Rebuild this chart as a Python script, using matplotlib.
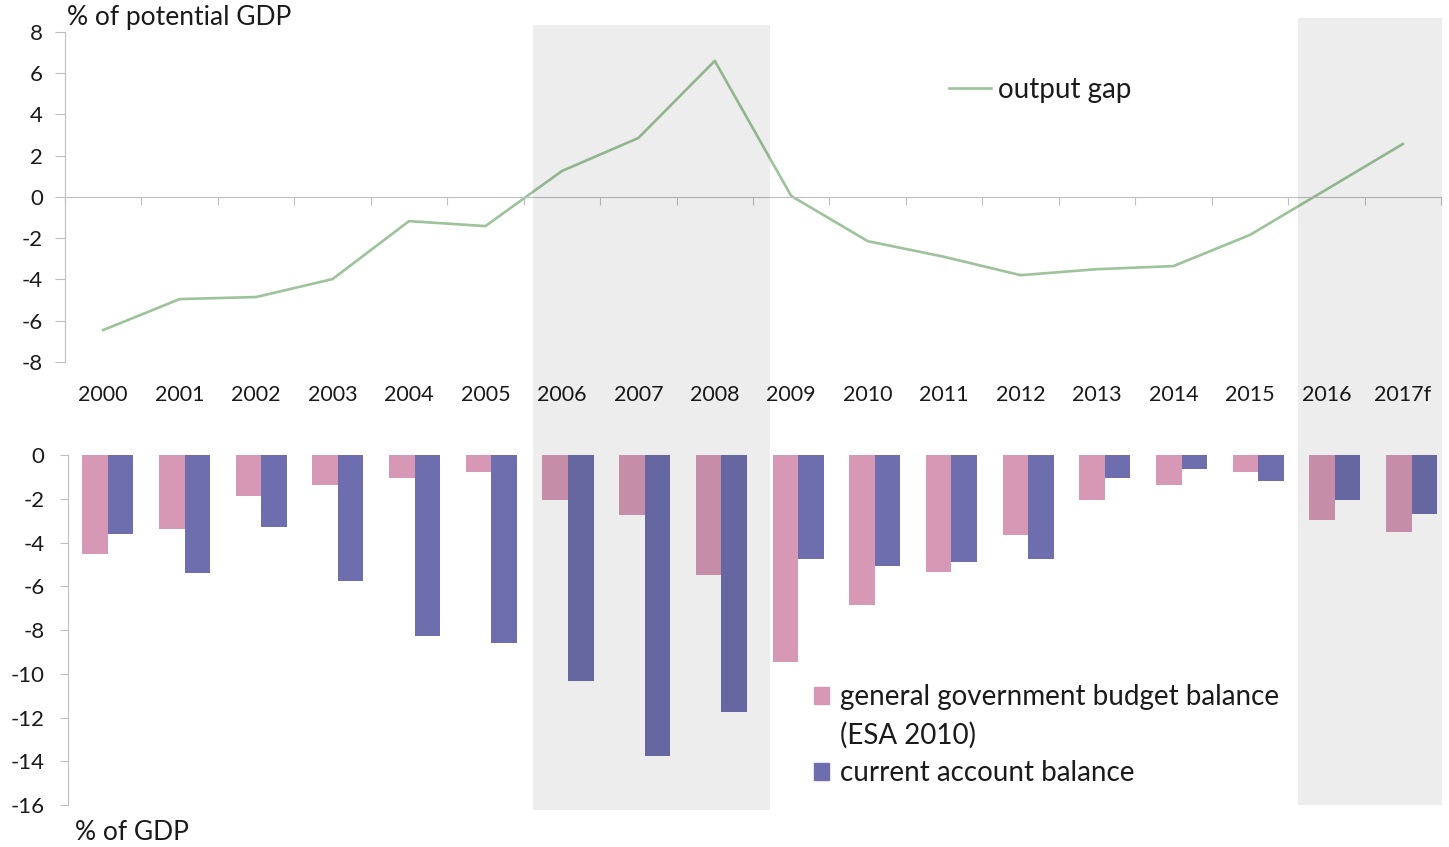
import numpy as np
import matplotlib.pyplot as plt
from matplotlib.patches import Rectangle
from matplotlib.lines import Line2D

plt.rcParams['font.family'] = ['Lato', 'DejaVu Sans']
plt.rcParams['axes.unicode_minus'] = False

years = ['2000', '2001', '2002', '2003', '2004', '2005', '2006', '2007', '2008',
         '2009', '2010', '2011', '2012', '2013', '2014', '2015', '2016', '2017f']
output_gap = [-6.45, -4.95, -4.85, -3.98, -1.17, -1.41, 1.26, 2.86, 6.6,
              0.05, -2.14, -2.9, -3.79, -3.5, -3.35, -1.84, 0.36, 2.57]
budget_balance = [-4.52, -3.38, -1.87, -1.37, -1.05, -0.78, -2.05, -2.74, -5.48,
                  -9.45, -6.85, -5.34, -3.65, -2.05, -1.37, -0.78, -2.97, -3.52]
current_account = [-3.6, -5.39, -3.29, -5.75, -8.26, -8.58, -10.32, -13.74, -11.74,
                   -4.75, -5.07, -4.89, -4.75, -1.05, -0.64, -1.19, -2.05, -2.69]

W, H = 1449, 847
green = '#9cc39a'
pink = '#d698b5'
blue = '#6e6eae'
axis_grey = '#bfbfbf'
txt = '#1a1a1a'
fs = 15      # tick labels
fs_big = 19  # unit labels and legends

fig = plt.figure(figsize=(W / 100, H / 100), dpi=100)

def box(l, t, r, b):
    return [l / W, 1 - b / H, (r - l) / W, (b - t) / H]

x = np.arange(len(years))

# upper panel: output gap line
ax1 = fig.add_axes(box(65, 32, 1441, 362))
ax1.patch.set_alpha(0)
ax1.plot(x, output_gap, color=green, lw=1.9, solid_joinstyle='round')
ax1.set_xlim(-0.5, len(years) - 0.5)
ax1.set_ylim(-8, 8)
ax1.set_yticks(range(-8, 9, 2))
for s in ['top', 'right']:
    ax1.spines[s].set_visible(False)
ax1.spines['bottom'].set_position(('data', 0))
ax1.spines['bottom'].set_color(axis_grey)
ax1.spines['left'].set_color(axis_grey)
ax1.set_xticks(np.arange(-0.5, len(years), 1))
ax1.tick_params(axis='x', direction='out', length=6, color=axis_grey, labelbottom=False)
ax1.tick_params(axis='y', direction='out', length=7, color=axis_grey, pad=9,
                labelsize=fs + 1, labelcolor=txt)
for i, yr in enumerate(years):
    ax1.text(i, -0.1, yr, transform=ax1.get_xaxis_transform(), ha='center',
             va='center', fontsize=fs + 0.5, color=txt)
fig.text(67 / W, 1 - 18 / H, '% of potential GDP', ha='left', va='center',
         fontsize=fs_big, color=txt)
fig.legend(handles=[Line2D([], [], color=green, lw=1.9)], labels=['output gap'],
           loc='center left', bbox_to_anchor=(924 / W, 1 - 90 / H), frameon=False,
           fontsize=fs_big + 1, handlelength=1.5, handletextpad=0.25, labelcolor=txt)

# lower panel: balances as grouped bars
ax2 = fig.add_axes(box(68, 455, 1450, 805))
ax2.patch.set_alpha(0)
bw = 0.333
ax2.bar(x - bw / 2, budget_balance, bw, color=pink, align='center')
ax2.bar(x + bw / 2, current_account, bw, color=blue, align='center')
ax2.set_xlim(-0.52, len(years) - 0.5)
ax2.set_ylim(-16, 0)
ax2.set_yticks(range(-16, 1, 2))
for s in ['top', 'right', 'bottom']:
    ax2.spines[s].set_visible(False)
ax2.spines['left'].set_color(axis_grey)
ax2.set_xticks([])
ax2.tick_params(axis='y', direction='out', length=6, color=axis_grey, pad=11,
                labelsize=fs + 1, labelcolor=txt)
fig.text(75 / W, 1 - 832 / H, '% of GDP', ha='left', va='center',
         fontsize=fs_big, color=txt)
blank = Rectangle((0, 0), 1, 1, alpha=0)
fig.legend(handles=[Rectangle((0, 0), 1, 1, color=pink), blank,
                    Rectangle((0, 0), 1, 1, color=blue)],
           labels=['general government budget balance', '(ESA 2010)',
                   'current account balance'],
           loc='upper left', bbox_to_anchor=(789 / W, 1 - 659 / H), frameon=False,
           fontsize=fs_big + 1, handlelength=0.55, handleheight=0.55, handletextpad=0.4,
           labelspacing=0.42, labelcolor=txt)

# shaded periods across both panels
for l, t, r, b in [(533, 25, 770, 810), (1298, 18, 1442, 805)]:
    fig.add_artist(Rectangle((l / W, 1 - b / H), (r - l) / W, (b - t) / H,
                             transform=fig.transFigure, facecolor='black',
                             alpha=0.07, edgecolor='none', zorder=5))

fig.savefig('out.png', dpi=100)
